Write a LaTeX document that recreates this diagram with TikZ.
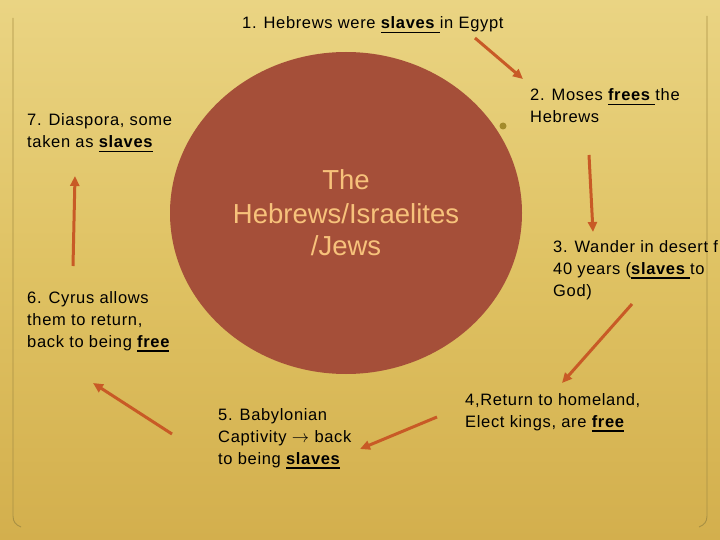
\documentclass[tikz,border=0pt]{standalone}
\usepackage{fontspec}
\setmainfont{Liberation Sans}
\newfontfamily\lblfont[LetterSpace=4]{Liberation Sans}
\usetikzlibrary{arrows.meta}
\definecolor{bgtop}{HTML}{EAD483}
\definecolor{bgmid}{HTML}{DFC263}
\definecolor{bgbot}{HTML}{D3AF4D}
\definecolor{disc}{HTML}{A54F39}
\definecolor{disctext}{HTML}{F7C27B}
\definecolor{arr}{HTML}{C85A26}
\definecolor{framec}{HTML}{A89044}
\definecolor{dotc}{HTML}{A38B2C}
\newcommand\ulbf[1]{\setbox0\hbox{\bfseries #1}\rlap{\rule[-4.5pt]{\wd0}{1.8pt}}\box0}
\begin{document}
\begin{tikzpicture}[x=1pt,y=-1pt,
  lbl/.style={anchor=base west, inner sep=0pt, font=\lblfont\fontsize{16.5}{22}\selectfont, text=black},
  ctr/.style={anchor=base, inner sep=0pt, font=\fontsize{27.5}{33}\selectfont, text=disctext},
  flow/.style={draw=arr, line width=3pt, -{Triangle[length=10pt,width=9pt]}},
  edge/.style={draw=framec, line width=0.9pt}]
\useasboundingbox (0,0) rectangle (720,540);
\begin{scope}
\clip (0,0) rectangle (720,540);
\shade[top color=bgtop, bottom color=bgbot, middle color=bgmid] (0,0) rectangle (720,540);
\draw[edge] (13,18) -- (13,516) .. controls (13,522) and (16,525) .. (21,527);
\draw[edge] (707,16) -- (707,516) .. controls (707,522) and (704,525) .. (699,527);
\fill[disc] (346,213) ellipse [x radius=176, y radius=161];
\fill[dotc] (503,126) circle [radius=3.5];

\node[ctr] (core) at (346,190) {\begin{tabular}[t]{@{}c@{}}The\\Hebrews/Israelites\\/Jews\end{tabular}};

\node[lbl] (s1) at (242,29) {1. Hebrews were \ulbf{slaves\ }in Egypt};
\node[lbl] (s2) at (530,101) {\begin{tabular}[t]{@{}l@{}}2. Moses \ulbf{frees\ }the\\Hebrews\end{tabular}};
\node[lbl] (s3) at (553,252) {\begin{tabular}[t]{@{}l@{}}3. Wander in desert f\\40 years (\ulbf{slaves\ }to\\God)\end{tabular}};
\node[lbl] (s4) at (465,405) {\begin{tabular}[t]{@{}l@{}}4,Return to homeland,\\Elect kings, are \ulbf{free}\end{tabular}};
\node[lbl] (s5) at (218,420) {\begin{tabular}[t]{@{}l@{}}5. Babylonian\\Captivity $\rightarrow$ back\\to being \ulbf{slaves}\end{tabular}};
\node[lbl] (s6) at (27,303) {\begin{tabular}[t]{@{}l@{}}6. Cyrus allows\\them to return,\\back to being \ulbf{free}\end{tabular}};
\node[lbl] (s7) at (27,126) {\begin{tabular}[t]{@{}l@{}}7. Diaspora, some\\taken as \ulbf{slaves}\end{tabular}};

\coordinate (a1s) at (475,38);  \coordinate (a1e) at (523,79);
\coordinate (a2s) at (589,155); \coordinate (a2e) at (593,232);
\coordinate (a3s) at (632,304); \coordinate (a3e) at (562,383);
\coordinate (a4s) at (437,417); \coordinate (a4e) at (360,449);
\coordinate (a5s) at (172,434); \coordinate (a5e) at (93,383);
\coordinate (a6s) at (73,266);  \coordinate (a6e) at (75,176);
\draw[flow] (a1s) -- (a1e);
\draw[flow] (a2s) -- (a2e);
\draw[flow] (a3s) -- (a3e);
\draw[flow] (a4s) -- (a4e);
\draw[flow] (a5s) -- (a5e);
\draw[flow] (a6s) -- (a6e);
\end{scope}
\end{tikzpicture}
\end{document}
